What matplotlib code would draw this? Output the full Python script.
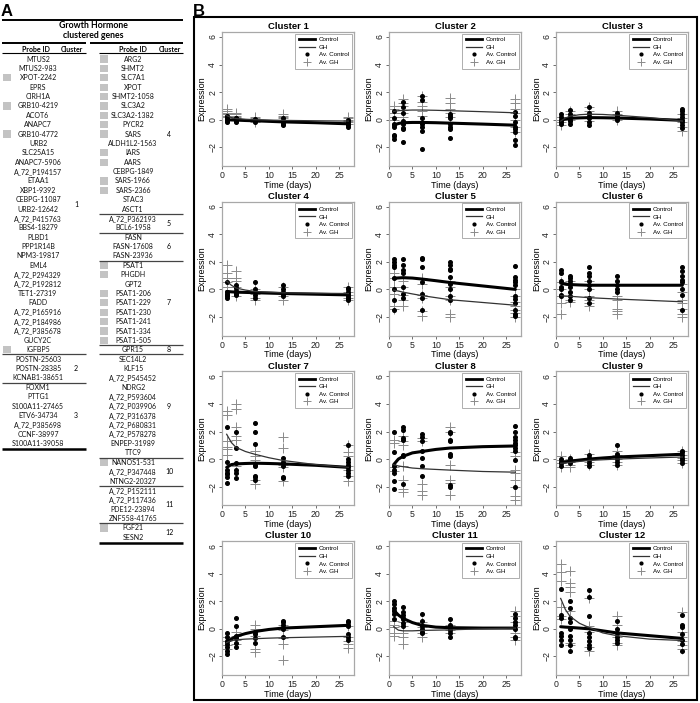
import matplotlib
matplotlib.use('Agg')
import numpy as np
import matplotlib.pyplot as plt
from matplotlib.lines import Line2D
from matplotlib.patches import Rectangle

plt.rcParams['font.family'] = ['Liberation Sans', 'DejaVu Sans']

# ---------------- Table data (panel A) ----------------
left_genes = ["MTUS2", "MTUS2-983", "XPOT-2242", "EPRS", "CIRH1A", "GRB10-4219", "ACOT6",
              "ANAPC7", "GRB10-4772", "URB2", "SLC25A15", "ANAPC7-5906", "A_72_P194157",
              "ETAA1", "XBP1-9392", "CEBPG-11087", "URB2-12642", "A_72_P415763", "BBS4-18279",
              "PLBD1", "PPP1R14B", "NPM3-19817", "EML4", "A_72_P294329", "A_72_P192812",
              "TET1-27319", "FADD", "A_72_P165916", "A_72_P184986", "A_72_P385678", "GUCY2C",
              "IGFBP5", "POSTN-25603", "POSTN-28385", "KCNAB1-38651", "FOXM1", "PTTG1",
              "S100A11-27465", "ETV6-34734", "A_72_P385698", "CCNF-38997", "S100A11-39058"]
left_cluster_ids = ["1", "2", "3"]
left_cluster_sizes = [32, 3, 7]
left_marked = [2, 5, 8, 31]

right_genes = ["ARG2", "SHMT2", "SLC7A1", "XPOT", "SHMT2-1058", "SLC3A2", "SLC3A2-1382",
               "PYCR2", "SARS", "ALDH1L2-1563", "IARS", "AARS", "CEBPG-1849", "SARS-1966",
               "SARS-2366", "STAC3", "ASCT1", "A_72_P362193", "BCL6-1958", "FASN",
               "FASN-17608", "FASN-23936", "PSAT1", "PHGDH", "GPT2", "PSAT1-206", "PSAT1-229",
               "PSAT1-230", "PSAT1-241", "PSAT1-334", "PSAT1-505", "GPR15", "SEC14L2", "KLF15",
               "A_72_P545452", "NDRG2", "A_72_P593604", "A_72_P039906", "A_72_P316378",
               "A_72_P680831", "A_72_P578278", "ENPEP-31989", "TTC9", "NANOS1-531",
               "A_72_P347448", "NTNG2-20327", "A_72_P152111", "A_72_P117436", "PDE12-23894",
               "ZNF558-41765", "FGF21", "SESN2"]
right_cluster_ids = ["4", "5", "6", "7", "8", "9", "10", "11", "12"]
right_cluster_sizes = [17, 2, 3, 9, 1, 11, 3, 4, 2]
right_marked = [0, 1, 2, 3, 4, 5, 6, 7, 8, 10, 11, 13, 14, 22, 23, 25, 26, 27, 28, 29, 30, 43, 50]

# ---------------- Cluster data (panel B) ----------------
T_OBS = [1, 3, 7, 13, 27]
T_FIT = [1, 2, 3, 5, 7, 10, 13, 20, 27]

c1_ctrl = [[0.3, 0.2, 0.1, 0.0, -0.1, -0.15], [0.15, 0.1, 0.0, -0.1, -0.15],
           [0.05, -0.05, -0.1, -0.2], [0.1, -0.1, -0.2, -0.3, -0.35],
           [0.0, -0.1, -0.2, -0.3, -0.4, -0.5]]
c1_gh = [[0.8, 0.6, 0.5, 0.4, 0.3, 0.2], [0.5, 0.4, 0.3, 0.2, 0.1],
         [0.2, 0.1, 0.0, -0.1, -0.2], [0.4, 0.3, 0.2, 0.1, 0.0, -0.1],
         [0.2, 0.1, 0.0, -0.1, -0.2, -0.3]]
c1_ctrl_fit = [0.0, -0.02, -0.03, -0.06, -0.08, -0.12, -0.16, -0.22, -0.3]
c1_gh_fit = [0.3, 0.15, 0.08, 0.03, 0.0, -0.03, -0.05, -0.08, -0.1]

c2_ctrl = [[0.6, 0.1, -0.3, -0.4, -0.5, -1.1, -1.2, -1.4],
           [1.3, 0.9, 0.5, -0.1, -0.3, -0.6, -0.7, -1.6],
           [1.7, 1.4, 0.1, -0.3, -0.5, -0.8, -2.1],
           [0.4, 0.3, 0.1, -0.3, -0.5, -0.7, -1.3],
           [0.55, 0.3, -0.2, -0.5, -0.65, -0.9, -1.5, -1.85]]
c2_gh = [[1.0, 0.8, 0.5, 0.2, 0.0], [1.5, 1.2, 1.0, 0.7, 0.5, 0.2],
         [1.7, 1.3, 1.0, 0.6, 0.3], [1.6, 1.2, 0.8, 0.5, 0.2],
         [1.5, 1.2, 0.8, 0.5, 0.0, -0.5, -0.9]]
c2_ctrl_fit = [-0.4, -0.28, -0.22, -0.2, -0.2, -0.22, -0.25, -0.32, -0.4]
c2_gh_fit = [0.6, 0.65, 0.68, 0.7, 0.7, 0.68, 0.65, 0.58, 0.5]

c3_ctrl = [[0.4, 0.2, 0.0, -0.2, -0.3], [0.7, 0.4, 0.2, 0.0, -0.1, -0.3],
           [0.9, 0.5, 0.3, 0.1, -0.2, -0.4], [0.5, 0.3, 0.1, 0.0],
           [0.8, 0.6, 0.4, 0.2, 0.0, -0.2, -0.4, -0.6]]
c3_gh = [[0.2, 0.0, -0.2, -0.4], [0.6, 0.4, 0.2, 0.0],
         [0.9, 0.6, 0.4, 0.1, -0.1], [0.6, 0.4, 0.2, 0.0],
         [0.4, 0.1, -0.2, -0.5, -0.8]]
c3_ctrl_fit = [-0.05, 0.05, 0.1, 0.13, 0.15, 0.14, 0.12, 0.05, -0.05]
c3_gh_fit = [-0.1, 0.12, 0.25, 0.36, 0.4, 0.38, 0.32, 0.15, -0.1]

c4_ctrl = [[0.5, -0.2, -0.3, -0.4, -0.5, -0.6], [0.3, 0.1, -0.1, -0.2, -0.3, -0.4],
           [0.5, 0.0, -0.2, -0.4, -0.6], [0.3, 0.0, -0.2, -0.3, -0.5],
           [0.1, 0.0, -0.2, -0.3, -0.5, -0.6, -0.7, -0.8]]
c4_gh = [[1.8, 1.2, 0.8, 0.5, 0.2], [1.3, 0.8, 0.6, 0.2, -0.2, -0.5],
         [0.0, -0.3, -0.6, -0.8], [0.2, -0.2, -0.5, -0.8],
         [0.2, -0.2, -0.4, -0.6, -0.8]]
c4_ctrl_fit = [-0.15, -0.18, -0.2, -0.22, -0.24, -0.27, -0.3, -0.35, -0.4]
c4_gh_fit = [0.6, 0.3, 0.1, -0.05, -0.15, -0.2, -0.25, -0.28, -0.3]

c5_ctrl = [[2.2, 2.0, 1.8, 1.6, 0.8, 0.0, -0.8, -1.5],
           [2.2, 1.8, 1.4, 1.2, 0.2, -0.3, -0.6],
           [2.3, 2.2, 1.6, 0.5, -0.3, -0.6, -1.5],
           [2.0, 1.8, 1.5, 1.4, 0.9, 0.4, 0.0, -0.5, -0.8],
           [1.7, 0.9, 0.7, 0.5, 0.3, -0.5, -0.7, -1.0, -1.5, -1.8, -1.9]]
c5_gh = [[1.2, 0.8, 0.2, -0.3, -1.2, -1.4], [0.6, 0.2, -0.4, -0.8, -1.2],
         [0.8, 0.4, -0.4, -0.6, -1.6, -1.9], [0.6, 0.2, -0.5, -0.8, -1.8, -2.0],
         [0.0, -0.5, -0.9, -1.2, -1.5, -1.7, -2.0]]
c5_ctrl_fit = [0.8, 0.83, 0.85, 0.82, 0.75, 0.63, 0.5, 0.25, 0.0]
c5_gh_fit = [-0.05, -0.12, -0.2, -0.33, -0.45, -0.6, -0.75, -0.95, -1.15]

c6_ctrl = [[1.4, 1.2, 0.6, 0.2, 0.0, -0.4, -0.5],
           [1.0, 0.8, 0.6, 0.4, 0.2, -0.2, -0.5, -0.8],
           [1.6, 1.2, 1.0, 0.6, 0.3, 0.0, -0.6, -1.0],
           [1.0, 0.6, 0.3, 0.0, -0.2],
           [1.6, 1.3, 1.0, 0.7, 0.5, 0.0, -0.4, -1.5]]
c6_gh = [[0.5, 0.0, -0.5, -1.0, -1.8], [0.6, 0.3, -0.5, -0.8, -0.9],
         [0.6, 0.0, -0.5, -0.8, -1.0, -1.2], [-0.5, -0.8, -1.4, -1.6, -1.8],
         [0.4, -0.2, -0.8, -1.0, -1.4, -1.8, -2.0]]
c6_ctrl_fit = [0.45, 0.38, 0.35, 0.32, 0.3, 0.3, 0.3, 0.3, 0.3]
c6_gh_fit = [-0.45, -0.48, -0.5, -0.55, -0.6, -0.65, -0.7, -0.8, -0.9]

c7_ctrl = [[2.3, -0.2, -0.8, -1.0, -1.1, -1.3, -1.7],
           [2.0, 0.8, -0.3, -0.8, -1.0, -1.4],
           [2.6, 2.0, 1.1, -0.4, -0.5, -1.2, -1.3, -1.5],
           [0.1, -0.2, -0.5, -1.3, -1.4],
           [1.0, 0.0, -0.2, -0.4, -0.6, -0.8, -1.0, -1.2]]
c7_gh = [[3.5, 3.2, 1.3, 0.9, 0.7, 0.3], [4.0, 3.6, 2.3, 1.7, 1.4, -0.5],
         [0.6, 0.2, -0.1, -1.5, -1.8], [1.6, 0.8, -0.4, -0.6, -1.6],
         [1.0, 0.5, 0.2, -0.5, -0.8, -1.2, -1.6]]
c7_ctrl_fit = [-0.6, -0.4, -0.35, -0.32, -0.3, -0.32, -0.35, -0.45, -0.6]
c7_gh_fit = [1.8, 1.2, 0.85, 0.55, 0.35, 0.1, -0.1, -0.4, -0.6]

c8_ctrl = [[2.0, 0.5, -0.5, -0.8, -1.0, -1.6, -2.2],
           [2.3, 2.1, 1.5, 1.4, 0.3, 0.2, -1.8],
           [1.8, 1.6, 1.3, 0.6, 0.1, -0.5, -1.2],
           [2.0, 1.9, 1.4, 1.3, 0.4, 0.2, -1.9, -2.0],
           [2.4, 2.0, 1.6, 1.4, 1.2, 1.0, 0.8, 0.6, -0.1, -2.0]]
c8_gh = [[1.4, 1.2, -0.6, -0.9], [1.7, 1.3, 1.0, -0.5, -1.5, -2.2, -2.4],
         [1.5, 1.3, -1.8, -2.3, -2.6], [2.3, 2.0, -0.4, -1.5, -1.7, -2.6],
         [0.5, 0.2, -0.8, -1.0, -1.5, -2.0, -2.7, -3.0]]
c8_ctrl_fit = [-0.4, 0.0, 0.2, 0.45, 0.55, 0.7, 0.8, 0.9, 0.95]
c8_gh_fit = [-0.4, -0.5, -0.55, -0.65, -0.7, -0.75, -0.8, -0.9, -0.95]

c9_ctrl = [[0.0, -0.2, -0.3, -0.5], [0.1, -0.1, -0.3],
           [0.3, 0.1, -0.1, -0.3, -0.5], [1.0, 0.4, 0.2, 0.0, -0.2, -0.4],
           [0.6, 0.5, 0.3, 0.1, -0.1, -0.3]]
c9_gh = [[0.2, -0.1, -0.3, -0.6], [0.0, -0.2, -0.4, -0.6],
         [0.4, 0.0, -0.2, -0.4], [0.6, 0.3, 0.0, -0.2, -0.4],
         [0.6, 0.3, 0.1, -0.1, -0.3]]
c9_ctrl_fit = [-0.25, -0.2, -0.15, -0.07, 0.0, 0.08, 0.15, 0.25, 0.35]
c9_gh_fit = [-0.3, -0.28, -0.25, -0.17, -0.1, -0.05, 0.0, 0.08, 0.15]

c10_ctrl = [[-0.3, -0.6, -0.9, -1.1, -1.3, -1.6, -1.8],
            [0.8, 0.2, -0.5, -0.7, -1.0, -1.3],
            [-0.2, -0.4, -0.7, -1.0], [0.6, 0.5, 0.3, 0.0, -0.6],
            [0.6, 0.5, 0.3, 0.2, -0.4, -0.6, -0.8]]
c10_gh = [[-0.6, -0.9, -1.2, -1.5], [-0.2, -0.5, -0.8, -1.1],
          [0.3, 0.0, -0.5, -1.5, -1.7], [0.3, -0.1, -0.7, -1.1, -2.3],
          [0.2, -0.6, -0.9, -1.1, -1.4]]
c10_ctrl_fit = [-1.0, -0.75, -0.55, -0.35, -0.2, -0.05, 0.05, 0.15, 0.25]
c10_gh_fit = [-1.0, -0.85, -0.8, -0.75, -0.72, -0.68, -0.65, -0.6, -0.55]

c11_ctrl = [[2.0, 1.8, 1.5, 1.3, 1.1, 0.7], [1.6, 1.2, 1.0, 0.8, 0.7, 0.4, 0.2],
            [1.1, 0.6, 0.2, 0.0, -0.2, -0.3], [0.7, 0.3, 0.1, 0.0, -0.1, -0.3, -0.6],
            [1.1, 0.8, 0.5, 0.3, 0.0, -0.6, -0.7]]
c11_gh = [[0.6, 0.3, 0.1, -0.3, -0.5], [0.5, 0.2, -0.3, -0.6, -1.1],
          [0.5, 0.1, -0.3, -0.6], [0.3, 0.1, -0.1, -0.3],
          [1.3, 0.9, 0.5, 0.1, -0.3, -0.6, -0.8]]
c11_ctrl_fit = [1.35, 1.0, 0.75, 0.45, 0.25, 0.12, 0.08, 0.05, 0.05]
c11_gh_fit = [0.15, -0.1, -0.15, -0.15, -0.12, -0.1, -0.08, 0.0, 0.05]

c12_ctrl = [[2.9, 1.0, 0.8, -0.3, -0.5, -0.8, -1.2],
            [2.0, 1.5, 0.8, 0.5, 0.0, -0.5, -0.8, -1.2, -1.6],
            [2.8, 2.3, 0.9, -0.3, -0.6, -0.9, -1.2, -1.4],
            [0.6, 0.0, -0.3, -0.6, -0.8, -1.0],
            [1.0, 0.3, 0.1, -0.4, -0.8, -1.1, -1.6]]
c12_gh = [[4.7, 4.1, 3.5, 1.6, 0.9, 0.7], [4.2, 3.3, 3.0, 2.7, 1.3, -1.0, -1.2],
          [2.2, 0.2, -0.2, -1.3, -1.6], [0.9, 0.3, -0.6, -1.0, -1.2],
          [1.2, -0.2, -0.6, -0.9, -1.2, -1.5]]
c12_ctrl_fit = [0.15, 0.12, 0.1, 0.05, 0.0, -0.15, -0.3, -0.5, -0.7]
c12_gh_fit = [2.2, 1.4, 0.9, 0.4, 0.1, -0.3, -0.5, -0.75, -0.85]

clusters = [
    (c1_ctrl, c1_gh, c1_ctrl_fit, c1_gh_fit), (c2_ctrl, c2_gh, c2_ctrl_fit, c2_gh_fit),
    (c3_ctrl, c3_gh, c3_ctrl_fit, c3_gh_fit), (c4_ctrl, c4_gh, c4_ctrl_fit, c4_gh_fit),
    (c5_ctrl, c5_gh, c5_ctrl_fit, c5_gh_fit), (c6_ctrl, c6_gh, c6_ctrl_fit, c6_gh_fit),
    (c7_ctrl, c7_gh, c7_ctrl_fit, c7_gh_fit), (c8_ctrl, c8_gh, c8_ctrl_fit, c8_gh_fit),
    (c9_ctrl, c9_gh, c9_ctrl_fit, c9_gh_fit), (c10_ctrl, c10_gh, c10_ctrl_fit, c10_gh_fit),
    (c11_ctrl, c11_gh, c11_ctrl_fit, c11_gh_fit), (c12_ctrl, c12_gh, c12_ctrl_fit, c12_gh_fit),
]

# ---------------- Figure ----------------
W, H = 700, 703
fig = plt.figure(figsize=(7.0, 7.03), dpi=100)


def fx(x):
    return x / W


def fy(y):
    return 1 - y / H


def hline(x0, x1, y, lw=1.0, color='k'):
    fig.add_artist(Line2D([fx(x0), fx(x1)], [fy(y), fy(y)], transform=fig.transFigure,
                          color=color, lw=lw, solid_capstyle='butt'))


TFONT = ['Lato', 'DejaVu Sans']
ROW0, ROWH = 59.0, 9.38

fig.text(fx(7), fy(11), "A", fontsize=12, fontweight='bold', ha='center', va='center')
fig.text(fx(199), fy(11), "B", fontsize=12, fontweight='bold', ha='center', va='center')

# table header
hline(2, 183, 20, lw=1.4)
fig.text(fx(93), fy(26), "Growth Hormone", fontsize=6.3, fontweight='bold', family=TFONT,
         ha='center', va='center')
fig.text(fx(93), fy(35.5), "clustered genes", fontsize=6.3, fontweight='bold', family=TFONT,
         ha='center', va='center')
hline(2, 86, 43.3, lw=1.4)
hline(90, 183, 43.3, lw=1.4)


def draw_column(genes, ids, sizes, marked, xname, xclus, xsq, x0, x1, xprobe, xcl):
    fig.text(fx(xprobe), fy(49), "Probe ID", fontsize=5, fontweight='bold', family=TFONT,
             ha='center', va='center')
    fig.text(fx(xcl), fy(49), "Cluster", fontsize=5, fontweight='bold', family=TFONT,
             ha='center', va='center')
    hline(x0, x1, 52.6, lw=0.8)
    for i, g in enumerate(genes):
        y = ROW0 + i * ROWH
        fig.text(fx(xname), fy(y), g, fontsize=5, family=TFONT, ha='center', va='center',
                 color='#111111')
        if i in marked:
            fig.add_artist(Rectangle((fx(xsq), fy(y + 3.6)), 7.5 / W, 7.2 / H,
                                     transform=fig.transFigure, color='#c3c3c3', lw=0))
    start = 0
    for k, (cid, n) in enumerate(zip(ids, sizes)):
        mid = start + (n - 1) / 2.0
        fig.text(fx(xclus), fy(ROW0 + mid * ROWH), cid, fontsize=5, family=TFONT,
                 ha='center', va='center')
        end = start + n
        yline = ROW0 + (end - 0.5) * ROWH
        if k == len(ids) - 1:
            hline(x0, x1, yline + 0.8, lw=1.8)
        else:
            hline(x0, x1, yline, lw=0.9, color='#444444')
        start = end


draw_column(left_genes, left_cluster_ids, left_cluster_sizes, left_marked,
            xname=38, xclus=76, xsq=3, x0=2, x1=86, xprobe=36, xcl=72)
draw_column(right_genes, right_cluster_ids, right_cluster_sizes, right_marked,
            xname=133, xclus=169, xsq=100, x0=99, x1=183, xprobe=133, xcl=170)

# panel B frame
fig.add_artist(Rectangle((fx(194), fy(700)), 503 / W, 683 / H, fill=False, lw=1.5,
                         ec='k', transform=fig.transFigure))

col_left = [222, 389, 556]
row_top = [32, 201.7, 371.4, 541.1]
AW, AH = 132, 134

GH_GREY = '#8a8a8a'
leg_handles = [
    Line2D([], [], color='k', lw=2.0),
    Line2D([], [], color='#333333', lw=0.9),
    Line2D([], [], ls='none', marker='o', color='k', ms=2.0),
    Line2D([], [], ls='none', marker='+', color=GH_GREY, ms=6, mew=0.7),
]
leg_labels = ["Control", "GH", "Av. Control", "Av. GH"]

for i, (ctrl, gh, cfit, gfit) in enumerate(clusters):
    r, c = divmod(i, 3)
    ax = fig.add_axes([fx(col_left[c]), fy(row_top[r] + AH), AW / W, AH / H])
    for t, vals in zip(T_OBS, gh):
        ax.plot(np.full(len(vals), t), vals, ls='none', marker='+', color=GH_GREY,
                ms=7, mew=0.7, zorder=2)
    for t, vals in zip(T_OBS, ctrl):
        ax.plot(np.full(len(vals), t), vals, ls='none', marker='o', color='k',
                ms=2.6, zorder=3)
    ax.plot(T_FIT, cfit, color='k', lw=2.2, zorder=4, solid_capstyle='round')
    ax.plot(T_FIT, gfit, color='#333333', lw=0.9, zorder=4)
    ax.set_xlim(0, 28.2)
    ax.set_ylim(-3.36, 6.36)
    ax.set_xticks([0, 5, 10, 15, 20, 25])
    ax.set_yticks([-2, 0, 2, 4, 6])
    ax.tick_params(length=2.5, width=0.6, color='#555555', labelsize=6.3, pad=1,
                   labelcolor='#222222')
    for lab in ax.get_yticklabels():
        lab.set_rotation(90)
        lab.set_va('center')
    for sp in ax.spines.values():
        sp.set_color('#a8a8a8')
        sp.set_linewidth(0.9)
    ax.set_title(f"Cluster {i + 1}", fontsize=6.8, fontweight='bold', pad=2)
    ax.set_xlabel("Time (days)", fontsize=6.5, labelpad=0.5)
    ax.set_ylabel("Expression", fontsize=6.5, labelpad=1)
    leg = ax.legend(leg_handles, leg_labels, loc='upper right', fontsize=4.5,
                    frameon=True, fancybox=False, edgecolor='#999999',
                    borderaxespad=0.25, handlelength=2.6, handletextpad=0.6,
                    labelspacing=0.35, borderpad=0.55)
    leg.get_frame().set_linewidth(0.7)

fig.savefig("out.png", dpi=100)
